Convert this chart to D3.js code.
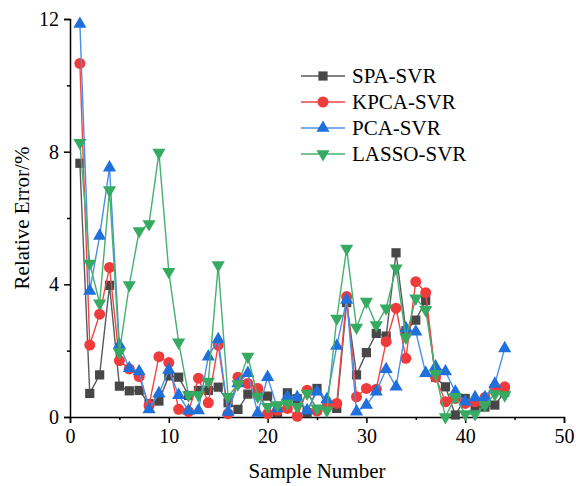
<!DOCTYPE html>
<html>
<head>
<meta charset="utf-8">
<script src="https://cdn.jsdelivr.net/npm/d3@7"></script>
<style>
  body { margin: 0; background: #fff; }
  svg { display: block; }
  text { font-family: 'Liberation Serif', 'Times New Roman', serif; }
</style>
</head>
<body>
<svg id="chart"></svg>
<script>
// sample numbers 1..44
const samples = d3.range(1, 45);

const spaSvr = [7.65, 0.71, 1.27, 3.97, 0.93, 0.79, 0.8, 0.4, 0.48, 1.24,
  1.2, 0.65, 0.8, 0.8, 0.9, 0.43, 0.23, 0.69, 0.7, 0.63,
  0.13, 0.73, 0.55, 0.13, 0.86, 0.36, 0.26, 3.45, 1.27, 1.94,
  2.52, 2.44, 4.95, 2.6, 2.92, 3.51, 1.2, 0.91, 0.06, 0.56,
  0.31, 0.3, 0.36, 0.75];

const kpcaSvr = [10.66, 2.17, 3.1, 4.51, 1.7, 1.45, 1.22, 0.35, 1.82, 1.64,
  0.23, 0.16, 1.17, 0.43, 2.17, 0.1, 1.2, 1.01, 0.86, 0.1,
  0.2, 0.26, 0.02, 0.81, 0.18, 0.3, 0.41, 3.63, 0.61, 0.86,
  0.84, 2.27, 3.28, 1.77, 4.08, 3.75, 1.2, 0.46, 0.56, 0.41,
  0.46, 0.59, 0.86, 0.91];

const pcaSvr = [11.85, 3.8, 5.46, 7.52, 2.17, 1.47, 1.37, 0.23, 0.71, 1.42,
  0.66, 0.19, 0.2, 1.82, 2.34, 0.15, 1.01, 1.32, 0.12, 1.2,
  0.26, 0.61, 0.59, 0.2, 0.76, 0.53, 2.14, 3.53, 0.16, 0.36,
  0.76, 1.44, 0.91, 2.67, 2.57, 1.32, 1.52, 1.37, 0.76, 0.46,
  0.59, 0.59, 1.0, 2.07];

const lassoSvr = [8.27, 4.63, 3.43, 6.84, 1.95, 3.98, 5.61, 5.82, 7.97, 4.38,
  2.25, 0.66, 0.66, 1.07, 4.58, 0.61, 0.99, 1.82, 0.62, 0.31,
  0.36, 0.41, 0.31, 0.71, 0.26, 0.2, 2.97, 5.08, 2.7, 3.48,
  2.77, 3.28, 4.48, 2.4, 3.58, 3.23, 1.3, 0.0, 0.61, 0.09,
  0.09, 0.36, 0.69, 0.66];

const seriesNames = ['SPA-SVR', 'KPCA-SVR', 'PCA-SVR', 'LASSO-SVR'];
const xTicks = [0, 10, 20, 30, 40, 50];
const yTicks = [0, 4, 8, 12];

const series = [
  { name: seriesNames[0], values: spaSvr, line: '#5a5a5a', fill: '#474747', shape: 'square' },
  { name: seriesNames[1], values: kpcaSvr, line: '#ef4545', fill: '#ef3b3b', shape: 'circle' },
  { name: seriesNames[2], values: pcaSvr, line: '#4b8ee8', fill: '#1f6fdc', shape: 'up' },
  { name: seriesNames[3], values: lassoSvr, line: '#45b070', fill: '#37aa62', shape: 'down' }
];

const width = 576, height = 486;
const margin = { top: 19, right: 12, bottom: 69, left: 70 };

const svg = d3.select('#chart').attr('width', width).attr('height', height);

const x = d3.scaleLinear().domain([0, 50]).range([margin.left, width - margin.right]);
const y = d3.scaleLinear().domain([0, 12]).range([height - margin.bottom, margin.top]);

// axes
svg.append('g')
  .attr('transform', `translate(0,${height - margin.bottom})`)
  .call(d3.axisBottom(x).tickValues(xTicks).tickSize(6).tickPadding(6));
svg.append('g')
  .attr('transform', `translate(0,${height - margin.bottom})`)
  .call(d3.axisBottom(x).tickValues([5, 15, 25, 35, 45]).tickSize(3).tickFormat(''))
  .select('.domain').remove();

svg.append('g')
  .attr('transform', `translate(${margin.left},0)`)
  .call(d3.axisLeft(y).tickValues(yTicks).tickSize(6).tickPadding(5));
svg.append('g')
  .attr('transform', `translate(${margin.left},0)`)
  .call(d3.axisLeft(y).tickValues([2, 6, 10]).tickSize(3).tickFormat(''))
  .select('.domain').remove();

svg.selectAll('.domain').attr('stroke', '#000').attr('stroke-width', 1.5);
svg.selectAll('.tick line').attr('stroke', '#000').attr('stroke-width', 1.5);
svg.selectAll('.tick text').style('font-size', '20px').attr('fill', '#000')
  .style('font-family', "'Liberation Serif', serif");

// axis titles
svg.append('text')
  .attr('x', (margin.left + width - margin.right) / 2)
  .attr('y', 478)
  .attr('text-anchor', 'middle')
  .style('font-size', '21px')
  .text('Sample Number');

svg.append('text')
  .attr('transform', `translate(29,${(margin.top + height - margin.bottom) / 2}) rotate(-90)`)
  .attr('text-anchor', 'middle')
  .style('font-size', '21px')
  .text('Relative Error/%');

// marker shapes
const symbolFor = {
  square: d3.symbol().type(d3.symbolSquare).size(85),
  circle: d3.symbol().type(d3.symbolCircle).size(95),
  up: d3.symbol().type(d3.symbolTriangle).size(75),
  down: d3.symbol().type(d3.symbolTriangle).size(75)
};

function drawMarker(g, s, cx, cy) {
  const p = g.append('path')
    .attr('d', symbolFor[s.shape]())
    .attr('fill', s.fill);
  if (s.shape === 'down') p.attr('transform', `translate(${cx},${cy}) rotate(180)`);
  else p.attr('transform', `translate(${cx},${cy})`);
}

const line = d3.line().x((d, i) => x(samples[i])).y(d => y(d));

series.forEach(s => {
  const g = svg.append('g');
  g.append('path')
    .datum(s.values)
    .attr('d', line)
    .attr('fill', 'none')
    .attr('stroke', s.line)
    .attr('stroke-width', 1.4);
  s.values.forEach((v, i) => drawMarker(g, s, x(samples[i]), y(v)));
});

// legend
const legend = svg.append('g').attr('transform', 'translate(301,76)');
series.forEach((s, i) => {
  const row = legend.append('g').attr('transform', `translate(0,${i * 26})`);
  row.append('line')
    .attr('x1', 0).attr('x2', 44).attr('y1', 0).attr('y2', 0)
    .attr('stroke', s.line).attr('stroke-width', 1.4);
  drawMarker(row, s, 22, 0);
  row.append('text')
    .attr('x', 51).attr('y', 7)
    .style('font-size', '21px')
    .text(s.name);
});
</script>
</body>
</html>
